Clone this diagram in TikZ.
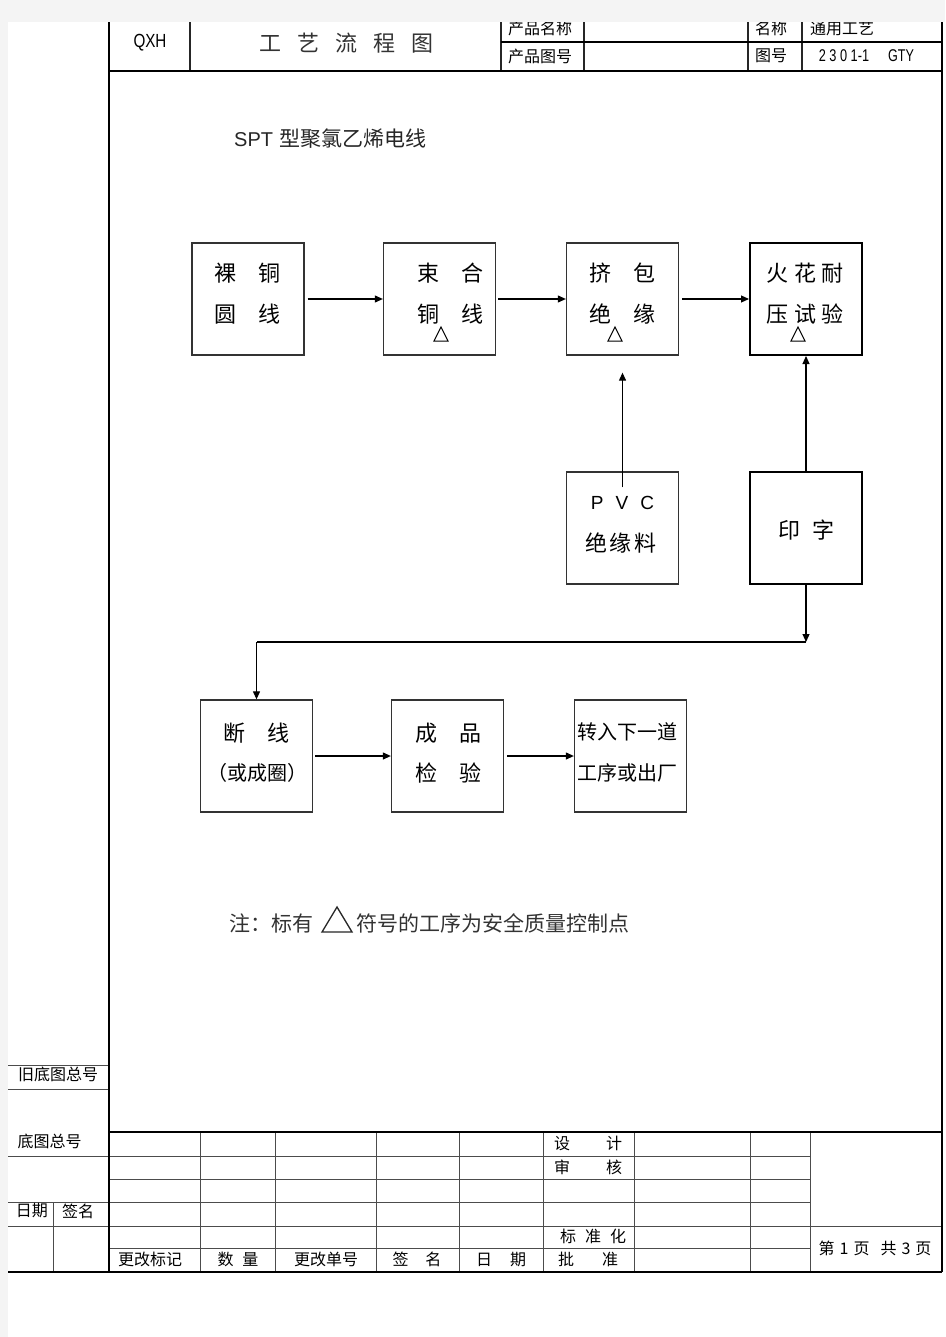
\documentclass[tikz,border=0pt]{standalone}
\usepackage{fontspec}
\setmainfont{Noto Sans CJK SC}
\newfontfamily\arialf{Liberation Sans}
\usetikzlibrary{arrows.meta}
\definecolor{pg}{HTML}{F4F4F4}
\newcommand{\gapx}[1]{\hspace{#1pt}}
\begin{document}
\begin{tikzpicture}[x=1pt,y=-1pt,
  fr/.style={line width=2pt,draw=black},
  hl/.style={line width=1.3pt,draw=black!85},
  gl/.style={line width=1pt,draw=black!70},
  bx/.style={draw=black!80,line width=1.3pt,minimum width=112pt,minimum height=112pt,inner sep=0pt},
  bxb/.style={bx,draw=black,line width=2pt},
  arr/.style={-{Triangle[length=8pt,width=7pt]},line width=1.1pt,draw=black},
  bt/.style={inner sep=0pt,font=\fontsize{22}{22}\selectfont},
  tt/.style={inner sep=0pt,font=\fontsize{16}{16}\selectfont},
  nt/.style={inner sep=0pt,font=\fontsize{21}{21}\selectfont,text=black!80}]
\useasboundingbox (0,0) rectangle (945,1337);
\fill[pg] (0,0) rectangle (945,1337);
\fill[white] (8,22) rectangle (945,1337);

% ---------- header ----------
\draw[hl] (190,22) -- (190,71);
\draw[hl] (501,22) -- (501,71);
\draw[hl] (584,22) -- (584,71);
\draw[hl] (748,22) -- (748,71);
\draw[hl] (802,22) -- (802,71);
\draw[fr] (501,42) -- (942,42);
\node[inner sep=0pt,font=\fontsize{19}{19}\selectfont\arialf] (qxh) at (150,43) {\scalebox{0.8}[1]{QXH}};
\node[inner sep=0pt,font=\fontsize{22}{22}\selectfont,text=black!80] (ttl) at (346.5,43) {工\gapx{16}艺\gapx{16}流\gapx{16}程\gapx{16}图};
\node[tt] (h1) at (540,28) {产品名称};
\node[tt] (h2) at (540,56) {产品图号};
\node[tt] (h3) at (771,28) {名称};
\node[tt] (h4) at (842,28) {通用工艺};
\node[tt] (h5) at (771,56) {图号};
\node[inner sep=0pt,font=\fontsize{17}{17}\selectfont\arialf] (h6) at (844,56) {\scalebox{0.75}[1]{2 3 0 1-1}};
\node[inner sep=0pt,font=\fontsize{17}{17}\selectfont\arialf] (h7) at (901,56) {\scalebox{0.74}[1]{GTY}};

% ---------- title ----------
\node[inner sep=0pt,anchor=west,text=black!85] (title) at (234,139)
  {\fontsize{20}{20}\selectfont\arialf SPT\gapx{6}\fontsize{21}{21}\selectfont\rmfamily 型聚氯乙烯电线};

% ---------- boxes ----------
\node[bx]  (b1) at (248,299) {};
\node[bx]  (b2) at (439.5,299) {};
\node[bx]  (b3) at (622.5,299) {};
\node[bxb] (b4) at (806,299) {};
\node[bx]  (b5) at (622.5,528) {};
\node[bxb] (b6) at (806,528) {};
\node[bx]  (b7) at (256.5,756) {};
\node[bx]  (b8) at (447.5,756) {};
\node[bx]  (b9) at (630.5,756) {};

\node[bt] (t1a) at (247.5,273) {裸\gapx{23}铜};
\node[bt] (t1b) at (247.5,314) {圆\gapx{23}线};
\node[bt] (t2a) at (450,273) {束\gapx{22}合};
\node[bt] (t2b) at (450,314) {铜\gapx{22}线};
\node[bt] (t3a) at (622.5,273) {挤\gapx{23}包};
\node[bt] (t3b) at (622.5,314) {绝\gapx{23}缘};
\node[bt] (t4a) at (805,273) {火\gapx{5.5}花\gapx{5.5}耐};
\node[bt] (t4b) at (805,314) {压\gapx{5.5}试\gapx{5.5}验};
\node[inner sep=0pt,font=\fontsize{19}{19}\selectfont\arialf] (t5a) at (622.5,503) {P\gapx{12}V\gapx{12}C};
\node[bt] (t5b) at (621,543) {绝\gapx{2.7}缘\gapx{2.7}料};
\node[bt] (t6) at (806,530) {印\gapx{12}字};
\node[bt] (t7a) at (256,733) {断\gapx{22}线};
\node[inner sep=0pt,font=\fontsize{20}{20}\selectfont] (t7b) at (257,773) {（或成圈）};
\node[bt] (t8a) at (448,733) {成\gapx{22}品};
\node[bt] (t8b) at (448,773) {检\gapx{22}验};
\node[inner sep=0pt,anchor=west,font=\fontsize{20}{20}\selectfont] (t9a) at (577,732) {转入下一道};
\node[inner sep=0pt,anchor=west,font=\fontsize{20}{20}\selectfont] (t9b) at (577,773) {工序或出厂};

% small triangles (control points)
\foreach \cx in {441,615,798}{
  \draw[line width=1pt] (\cx-7,341) -- (\cx,327) -- (\cx+7,341) -- cycle;
}

% ---------- connectors ----------
\draw[arr] ([xshift=3pt]b1.east) -- (b2.west);
\draw[arr] ([xshift=2pt]b2.east) -- (b3.west);
\draw[arr] ([xshift=3pt]b3.east) -- (b4.west);
\draw[arr] ([yshift=-16pt]b5.north) -- ([yshift=-17pt]b3.south);
\draw[arr] (b6.north) -- (b4.south);
\coordinate (yl) at (0,642);
\coordinate (c1) at (b6.south |- yl);
\coordinate (c2) at (b7.north |- yl);
\draw[arr] (b6.south) -- (c1);
\draw[line width=1.1pt] (c1) -- (c2);
\draw[arr] (c2) -- (b7.north);
\draw[arr] ([xshift=2pt]b7.east) -- (b8.west);
\draw[arr] ([xshift=3pt]b8.east) -- (b9.west);

% ---------- note ----------
\node[nt,anchor=west] (n1) at (229,923) {注：标有};
\draw[line width=1.3pt,black!85] (322,932) -- (337,907) -- (352,932) -- cycle;
\node[nt,anchor=west] (n2) at (356,923) {符号的工序为安全质量控制点};

% ---------- left column ----------
\draw[gl] (8,1065) -- (109,1065);
\draw[gl] (8,1089) -- (109,1089);
\draw[gl] (8,1156) -- (109,1156);
\draw[gl] (8,1202) -- (109,1202);
\draw[gl] (8,1226) -- (109,1226);
\draw[gl] (53,1202) -- (53,1272);
\node[tt] (l1) at (58,1074) {旧底图总号};
\node[tt] (l2) at (49.5,1141) {底图总号};
\node[tt] (l3) at (32,1211) {日期};
\node[tt] (l4) at (78,1211) {签名};

% ---------- bottom table ----------
\foreach \yy in {1156,1179,1202,1248}{ \draw[gl] (109,\yy) -- (810,\yy); }
\draw[gl] (109,1226) -- (942,1226);
\foreach \xx in {200,275,376,459,543,634,750,810}{ \draw[gl] (\xx,1132) -- (\xx,1272); }
\node[tt] (r1) at (150,1259.5) {更改标记};
\node[tt] (r2) at (238,1259.5) {数\gapx{9}量};
\node[tt] (r3) at (326,1259.5) {更改单号};
\node[tt] (r4) at (417,1259.5) {签\gapx{17}名};
\node[tt] (r5) at (501,1259.5) {日\gapx{18}期};
\node[tt] (r6) at (588,1259.5) {批\gapx{28}准};
\node[tt] (r7) at (588,1143) {设\gapx{36}计};
\node[tt] (r8) at (588,1167) {审\gapx{36}核};
\node[tt] (r9) at (593,1236) {标\gapx{9}准\gapx{9}化};
\node[tt] (r10) at (875,1248) {第\gapx{5}1\gapx{5}页\gapx{11}共\gapx{5}3\gapx{5}页};

% ---------- main frame ----------
\draw[fr] (109,22) -- (109,1272);
\draw[fr] (942,22) -- (942,1272);
\draw[fr] (109,71) -- (942,71);
\draw[fr] (109,1132) -- (942,1132);
\draw[line width=1.5pt] (8,1272) -- (942,1272);

% ---------- outer grey margins (clip) ----------
\fill[pg] (0,0) rectangle (945,22);
\fill[pg] (0,0) rectangle (8,1337);
\end{tikzpicture}
\end{document}
